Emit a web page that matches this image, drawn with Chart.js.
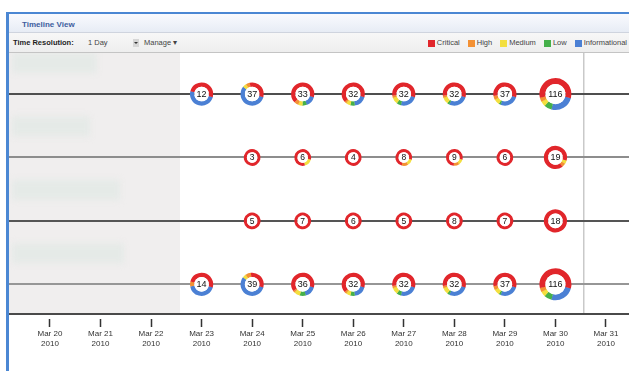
<!DOCTYPE html>
<html>
<head>
<meta charset="utf-8">
<script src="https://cdn.jsdelivr.net/npm/chart.js@4.4.1/dist/chart.umd.min.js"></script>
<style>
  html, body { margin: 0; padding: 0; background: #fff; }
  body { width: 629px; height: 371px; overflow: hidden; position: relative; font-family: 'Liberation Sans', Arial, sans-serif; }
  #frame { position: absolute; left: 6px; top: 12px; width: 623px; height: 359px; box-sizing: border-box;
           border-left: 3px solid #4b87d3; border-top: 2px solid #4b87d3; }
  #titlebar { position: absolute; left: 0; top: 0; right: 0; height: 19px; box-sizing: border-box;
              background: linear-gradient(#f9fafe, #e7ecf5); border-bottom: 1px solid #cfd4de; }
  #titlebar span { position: absolute; left: 13px; top: 6px; line-height: 9px; font-size: 8px; font-weight: bold; color: #3d5d9e; }
  #toolbar { position: absolute; left: 0; top: 19px; right: 0; height: 20px; box-sizing: border-box;
             background: linear-gradient(#f7f7f7, #eeeeee); border-bottom: 1px solid #c4c4c4; }
  #toolbar .t { position: absolute; top: 5px; line-height: 10px; font-size: 7.5px; color: #444; white-space: nowrap; }
  #toolbar .b { font-weight: bold; color: #1e1e1e; }
  #dd { position: absolute; left: 124px; top: 6px; width: 6px; height: 8px; background: #d6d6d6; }
  #dd:after { content: ''; position: absolute; left: 1px; top: 3px; border-left: 2px solid transparent; border-right: 2px solid transparent; border-top: 2px solid #333; }
  #legend { position: absolute; right: 2px; top: 5px; display: flex; align-items: center; line-height: 10px; font-size: 7.5px; color: #444; }
  #legend .item { display: flex; align-items: center; margin-left: 8px; }
  #legend .sq { width: 7px; height: 7px; margin-right: 2px; }
  #chartBox { position: absolute; left: 9px; top: 53px; width: 620px; height: 318px; }
</style>
</head>
<body>
<div id="frame">
  <div id="titlebar"><span>Timeline View</span></div>
  <div id="toolbar">
    <span class="t b" style="left:4px">Time Resolution:</span>
    <span class="t" style="left:79px">1 Day</span>
    <div id="dd"></div>
    <span class="t" style="left:135px">Manage &#9662;</span>
    <div id="legend"></div>
  </div>
</div>
<div id="chartBox"><canvas id="timeline" width="620" height="318"></canvas></div>

<script>
// Axis days and the year shown under each tick
const dayLabels = ['Mar 20', 'Mar 21', 'Mar 22', 'Mar 23', 'Mar 24', 'Mar 25',
                   'Mar 26', 'Mar 27', 'Mar 28', 'Mar 29', 'Mar 30', 'Mar 31'];
const yearLabel = '2010';

// Days that carry event counts (columns of the count arrays below)
const activeDays = ['Mar 23', 'Mar 24', 'Mar 25', 'Mar 26', 'Mar 27', 'Mar 28', 'Mar 29', 'Mar 30'];

// Severity legend
const severities = ['Critical', 'High', 'Medium', 'Low', 'Informational'];
const severityColors = ['#e1262b', '#f39134', '#f3df3f', '#45b04a', '#4b80d4'];

// Event counts per severity: one row per timeline lane (top to bottom), null = no events
const critical = [
  [6, 12, 22, 21, 18, 18, 21, 67],
  [null, 3, 5, 4, 6, 7, 6, 17],
  [null, 5, 7, 6, 5, 8, 7, 18],
  [7, 12, 23, 21, 18, 18, 21, 67]
];
const high = [
  [0, 2, 2, 1, 1, 1, 2, 5],
  [null, 0, 0, 0, 1, 1, 0, 1],
  [null, 0, 0, 0, 0, 0, 0, 0],
  [1, 3, 1, 1, 1, 1, 2, 5]
];
const medium = [
  [0, 2, 2, 2, 3, 3, 3, 6],
  [null, 0, 1, 0, 1, 1, 0, 1],
  [null, 0, 0, 0, 0, 0, 0, 0],
  [0, 2, 3, 2, 3, 3, 3, 6]
];
const low = [
  [0, 0, 2, 2, 2, 1, 1, 9],
  [null, 0, 0, 0, 0, 0, 0, 0],
  [null, 0, 0, 0, 0, 0, 0, 0],
  [0, 0, 3, 2, 2, 1, 1, 9]
];
const informational = [
  [6, 21, 5, 6, 8, 9, 10, 29],
  [null, 0, 0, 0, 0, 0, 0, 0],
  [null, 0, 0, 0, 0, 0, 0, 0],
  [6, 22, 6, 6, 8, 9, 10, 29]
];

// Vertical level of each lane on the y scale (top lane highest)
const laneLevels = [4, 3, 2, 1];
const laneLineColors = ['#4f4f4f', '#8d8d8d', '#555555', '#969696'];

// Current-time marker, in days after Mar 20
const nowMarker = 10.56;

// ---- legend ----
const legendEl = document.getElementById('legend');
severities.forEach((name, i) => {
  const item = document.createElement('span');
  item.className = 'item';
  item.innerHTML = '<span class="sq" style="background:' + severityColors[i] + '"></span>' + name;
  legendEl.appendChild(item);
});

// ---- datasets: one per lane ----
const datasets = laneLevels.map((level, r) => ({
  label: 'Lane ' + (r + 1),
  data: activeDays.map((day, j) => critical[r][j] == null ? null : {
    x: dayLabels.indexOf(day),
    y: level,
    counts: [critical[r][j], high[r][j], medium[r][j], low[r][j], informational[r][j]]
  }).filter(Boolean)
}));

// Grey caption column, blurred lane captions and the current-time marker
const captionWidths = [85, 78, 108, 112];
const lanePanel = {
  id: 'lanePanel',
  beforeDraw(chart) {
    const { ctx, chartArea: a, scales: { x, y } } = chart;
    ctx.save();
    ctx.fillStyle = '#f0eeee';
    ctx.fillRect(a.left, a.top, 171, a.bottom - a.top);
    ctx.filter = 'blur(3px)';
    ctx.fillStyle = '#e5eae7';
    laneLevels.forEach((lv, i) => {
      const cy = y.getPixelForValue(lv) - 31;
      ctx.fillRect(a.left + 3, cy - 10, captionWidths[i], 20);
    });
    ctx.filter = 'none';
    const nx = x.getPixelForValue(nowMarker);
    ctx.strokeStyle = '#c9c9c9';
    ctx.lineWidth = 1.5;
    ctx.beginPath();
    ctx.moveTo(nx, a.top);
    ctx.lineTo(nx, a.bottom);
    ctx.stroke();
    ctx.restore();
  }
};

// Severity ring drawn at every point, total count in the centre
const ringStart = 0.25; // radians clockwise from 3 o'clock
const severityRings = {
  id: 'severityRings',
  afterDatasetsDraw(chart) {
    const ctx = chart.ctx;
    ctx.save();
    chart.data.datasets.forEach((ds, di) => {
      chart.getDatasetMeta(di).data.forEach((el, i) => {
        const counts = ds.data[i].counts;
        const total = counts.reduce((s, v) => s + v, 0);
        const R = total < 10 ? 8.4 : (total < 100 ? 11.6 : 16);
        const rIn = R * 0.63;
        let a0 = ringStart;
        // clockwise: informational first, critical last
        for (let k = counts.length - 1; k >= 0; k--) {
          if (!counts[k]) continue;
          const sweep = counts[k] / total * Math.PI * 2;
          ctx.beginPath();
          ctx.arc(el.x, el.y, R, a0, a0 + sweep + 0.02);
          ctx.arc(el.x, el.y, rIn, a0 + sweep + 0.02, a0, true);
          ctx.closePath();
          ctx.fillStyle = severityColors[k];
          ctx.fill();
          a0 += sweep;
        }
        ctx.beginPath();
        ctx.arc(el.x, el.y, rIn, 0, Math.PI * 2);
        ctx.fillStyle = '#ffffff';
        ctx.fill();
        ctx.fillStyle = '#111';
        ctx.font = (total < 10 ? '8.5px' : '9px') + " 'Liberation Sans', Arial, sans-serif";
        ctx.textAlign = 'center';
        ctx.textBaseline = 'middle';
        ctx.fillText(String(total), el.x, el.y + 0.5);
      });
    });
    ctx.restore();
  }
};

new Chart(document.getElementById('timeline'), {
  type: 'scatter',
  data: { datasets },
  options: {
    responsive: false,
    animation: false,
    devicePixelRatio: 1,
    layout: { padding: 0 },
    events: [],
    plugins: { legend: { display: false }, tooltip: { enabled: false } },
    elements: { point: { radius: 0, hoverRadius: 0 } },
    scales: {
      x: {
        type: 'linear',
        min: -0.81,
        max: 11.455,
        afterBuildTicks: s => { s.ticks = dayLabels.map((_, i) => ({ value: i })); },
        afterFit: s => { s.height = 57; },
        border: { display: true, color: '#4a4a4a', width: 2 },
        grid: {
          drawOnChartArea: false,
          drawTicks: true,
          tickLength: 13,
          tickColor: '#333',
          tickWidth: 1.5,
          tickBorderDash: [0, 4, 9, 40]
        },
        ticks: {
          autoSkip: false,
          maxRotation: 0,
          padding: 2,
          color: '#333',
          font: { family: "'Liberation Sans', Arial, sans-serif", size: 8, lineHeight: 1.25 },
          callback: v => [dayLabels[v], yearLabel]
        }
      },
      y: {
        type: 'linear',
        min: 0.532,
        max: 4.647,
        afterBuildTicks: s => { s.ticks = laneLevels.map(v => ({ value: v })); },
        afterFit: s => { s.width = 0; },
        border: { display: false },
        grid: {
          drawTicks: false,
          lineWidth: 2,
          color: c => laneLineColors[laneLevels.indexOf(c.tick.value)] || 'transparent'
        },
        ticks: { display: false }
      }
    }
  },
  plugins: [lanePanel, severityRings]
});
</script>
</body>
</html>
